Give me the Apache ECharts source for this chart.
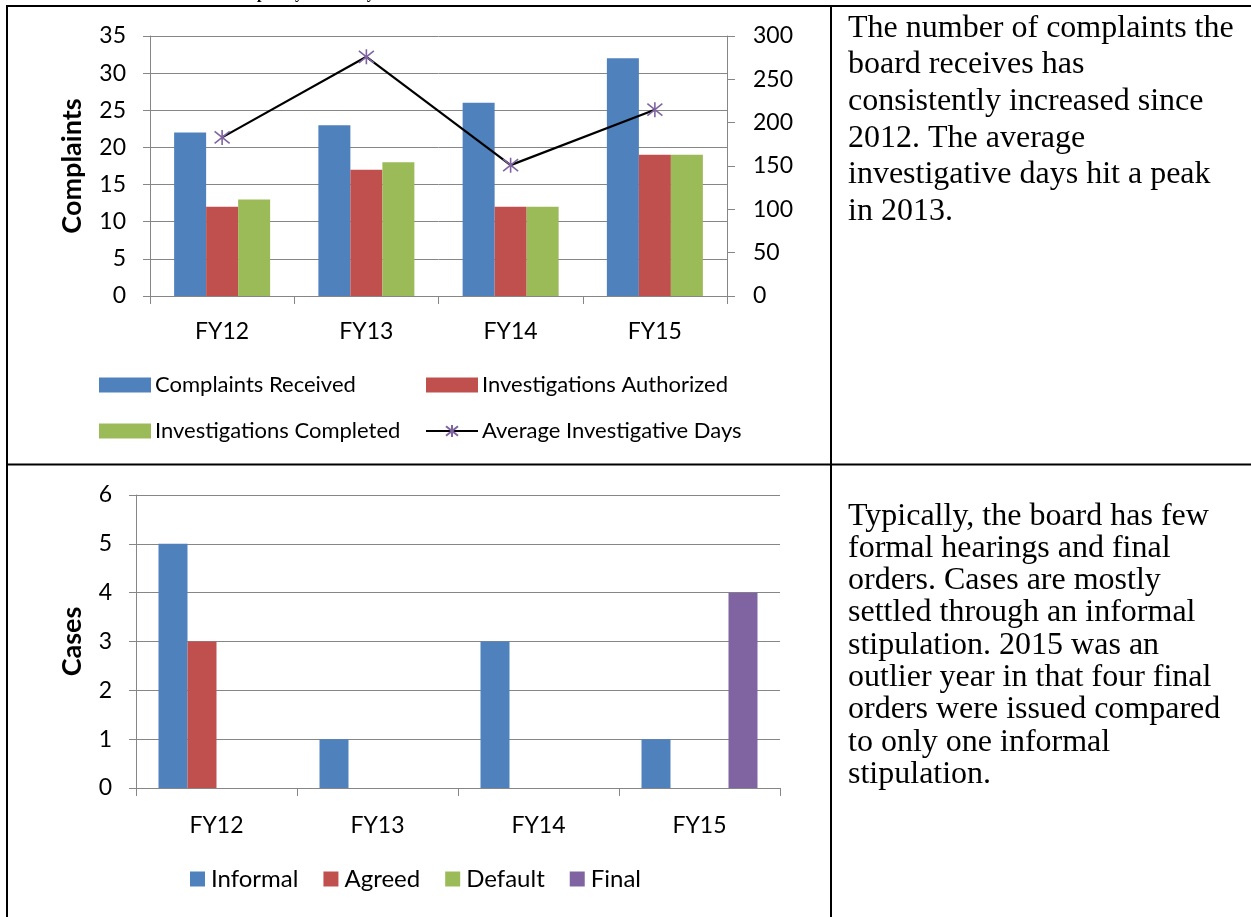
<!DOCTYPE html>
<html>
<head>
<meta charset="utf-8">
<script src="https://cdn.jsdelivr.net/npm/echarts@6/dist/echarts.min.js"></script>
<style>
html,body{margin:0;padding:0;background:#fff;}
#c{width:1251px;height:917px;}
</style>
</head>
<body>
<div id="c"></div>
<script>
const categories = ['FY12', 'FY13', 'FY14', 'FY15'];
const complaintsReceived = [22, 23, 26, 32];
const investigationsAuthorized = [12, 17, 12, 19];
const investigationsCompleted = [13, 18, 12, 19];
const avgInvestigativeDays = [183, 276, 151, 215];
const informal = [5, 1, 3, 1];
const agreed = [3, 0, 0, 0];
const defaultOrders = [0, 0, 0, 0];
const finalOrders = [0, 0, 0, 4];
const topText = 'The number of complaints the\nboard receives has\nconsistently increased since\n2012. The average\ninvestigative days hit a peak\nin 2013.';
const bottomText = 'Typically, the board has few\nformal hearings and final\norders. Cases are mostly\nsettled through an informal\nstipulation. 2015 was an\noutlier year in that four final\norders were issued compared\nto only one informal\nstipulation.';

const FONT = 'Lato';
const GRAY = '#868686';
const BLUE = '#4F81BD', RED = '#C0504D', GREEN = '#9BBB59', PURPLE = '#8064A2';
const labelStyle = {fontFamily: FONT, fontSize: 22, color: '#000'};
const tickStyle = {fontFamily: FONT, fontSize: 23, color: '#000'};
const nameStyle = {fontFamily: FONT, fontSize: 27, fontWeight: 'bold', color: '#000'};

const chart = echarts.init(document.getElementById('c'), null, {renderer: 'canvas'});
const star = 'path://M10,0L10,20M2,2L18,18M2,18L18,2';

chart.setOption({
  animation: false,
  backgroundColor: '#fff',
  grid: [
    {left: 150, top: 36, width: 577, height: 260},
    {left: 136, top: 495, width: 644, height: 293}
  ],
  xAxis: [
    {type: 'category', gridIndex: 0, data: categories,
     axisLine: {lineStyle: {color: GRAY, width: 1}},
     axisTick: {show: true, length: 8, lineStyle: {color: GRAY}},
     axisLabel: Object.assign({margin: 24}, tickStyle)},
    {type: 'category', gridIndex: 1, data: categories,
     axisLine: {lineStyle: {color: GRAY, width: 1}},
     axisTick: {show: true, length: 8, lineStyle: {color: GRAY}},
     axisLabel: Object.assign({margin: 26}, tickStyle)}
  ],
  yAxis: [
    {type: 'value', gridIndex: 0, min: 0, max: 35, interval: 5,
     name: 'Complaints', nameLocation: 'middle', nameGap: 64, nameTextStyle: nameStyle,
     axisLine: {show: true, lineStyle: {color: GRAY}},
     axisTick: {show: true, length: 7, lineStyle: {color: GRAY}},
     splitLine: {lineStyle: {color: GRAY}},
     axisLabel: Object.assign({margin: 24}, tickStyle)},
    {type: 'value', gridIndex: 0, position: 'right', min: 0, max: 300, interval: 50,
     axisLine: {show: true, lineStyle: {color: GRAY}},
     axisTick: {show: true, length: 8, lineStyle: {color: GRAY}},
     splitLine: {show: false},
     axisLabel: Object.assign({margin: 26}, tickStyle)},
    {type: 'value', gridIndex: 1, min: 0, max: 6, interval: 1,
     name: 'Cases', nameLocation: 'middle', nameGap: 50, nameTextStyle: nameStyle,
     axisLine: {show: true, lineStyle: {color: GRAY}},
     axisTick: {show: true, length: 7, lineStyle: {color: GRAY}},
     splitLine: {lineStyle: {color: GRAY}},
     axisLabel: Object.assign({margin: 24}, tickStyle)}
  ],
  legend: [
    {orient: 'vertical', left: 99, top: 372, padding: 0, itemWidth: 52, itemHeight: 15, itemGap: 20,
     data: [{name: 'Complaints Received', icon: 'rect'}, {name: 'Investigations Completed', icon: 'rect'}],
     textStyle: Object.assign({lineHeight: 26, padding: [0, 0, 0, -1]}, labelStyle)},
    {orient: 'vertical', left: 425, top: 372, padding: 0, itemWidth: 52, itemHeight: 15, itemGap: 20,
     data: [{name: 'Investigations Authorized', icon: 'rect'}, 'Average Investigative Days'],
     textStyle: Object.assign({lineHeight: 26, padding: [0, 0, 0, -1]}, labelStyle)},
    {orient: 'horizontal', left: 190, top: 866, padding: 0, itemWidth: 15, itemHeight: 15, itemGap: 25,
     data: [{name: 'Informal', icon: 'rect'}, {name: 'Agreed', icon: 'rect'}, {name: 'Default', icon: 'rect'}, {name: 'Final', icon: 'rect'}],
     textStyle: {fontFamily: FONT, fontSize: 24, color: '#000', lineHeight: 26, padding: [0, 0, 0, 1]}}
  ],
  series: [
    {name: 'Complaints Received', type: 'bar', xAxisIndex: 0, yAxisIndex: 0, data: complaintsReceived,
     barWidth: 32, barGap: '0%', itemStyle: {color: BLUE}},
    {name: 'Investigations Authorized', type: 'bar', xAxisIndex: 0, yAxisIndex: 0, data: investigationsAuthorized,
     barWidth: 32, barGap: '0%', itemStyle: {color: RED}},
    {name: 'Investigations Completed', type: 'bar', xAxisIndex: 0, yAxisIndex: 0, data: investigationsCompleted,
     barWidth: 32, barGap: '0%', itemStyle: {color: GREEN}},
    {name: 'Average Investigative Days', type: 'line', xAxisIndex: 0, yAxisIndex: 1, data: avgInvestigativeDays,
     symbol: star, symbolSize: 15, showAllSymbol: true,
     lineStyle: {color: '#000', width: 2.2},
     itemStyle: {color: PURPLE, borderColor: PURPLE, borderWidth: 1.6}},
    {name: 'Informal', type: 'bar', xAxisIndex: 1, yAxisIndex: 2, data: informal,
     barWidth: 29, barGap: '0%', itemStyle: {color: BLUE}},
    {name: 'Agreed', type: 'bar', xAxisIndex: 1, yAxisIndex: 2, data: agreed,
     barWidth: 29, barGap: '0%', itemStyle: {color: RED}},
    {name: 'Default', type: 'bar', xAxisIndex: 1, yAxisIndex: 2, data: defaultOrders,
     barWidth: 29, barGap: '0%', itemStyle: {color: GREEN}},
    {name: 'Final', type: 'bar', xAxisIndex: 1, yAxisIndex: 2, data: finalOrders,
     barWidth: 29, barGap: '0%', itemStyle: {color: PURPLE}}
  ],
  graphic: [
    {type: 'text', left: 224, top: -14.5, style: {text: 'Complexity Summary', font: 'bold 16px "Liberation Serif"', fill: '#000'}},
    {type: 'line', shape: {x1: 6, y1: 6, x2: 1251, y2: 6}, style: {stroke: '#000', lineWidth: 2}},
    {type: 'line', shape: {x1: 7, y1: 5, x2: 7, y2: 917}, style: {stroke: '#000', lineWidth: 2}},
    {type: 'line', shape: {x1: 831, y1: 5, x2: 831, y2: 917}, style: {stroke: '#000', lineWidth: 2}},
    {type: 'line', shape: {x1: 6, y1: 464.5, x2: 1251, y2: 464.5}, style: {stroke: '#000', lineWidth: 2}},
    {type: 'text', left: 848, top: 10, style: {text: topText, font: '32px "Liberation Serif"', lineHeight: 36.6, fill: '#000'}},
    {type: 'text', left: 848, top: 500, style: {text: bottomText, font: '32px "Liberation Serif"', lineHeight: 32.3, fill: '#000'}}
  ]
});
</script>
</body>
</html>
